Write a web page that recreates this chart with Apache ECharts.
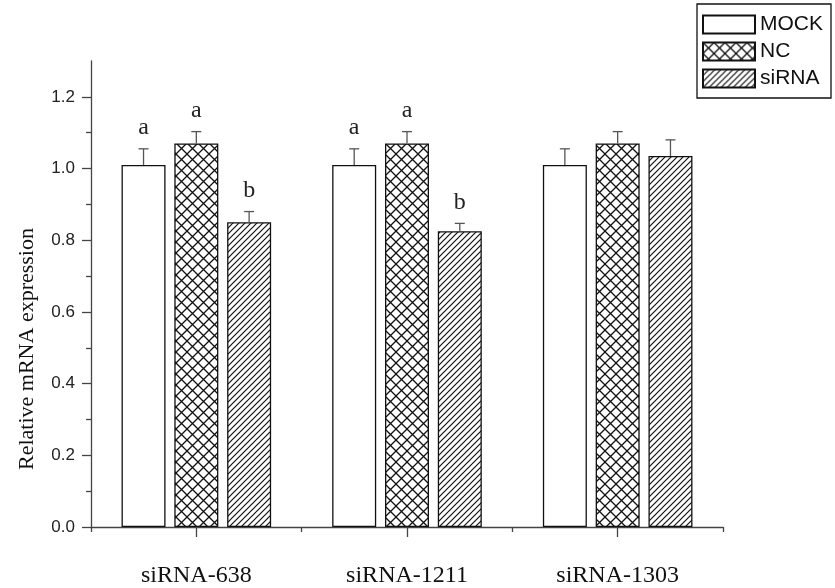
<!DOCTYPE html>
<html>
<head>
<meta charset="utf-8">
<script src="https://cdn.jsdelivr.net/npm/echarts@6/dist/echarts.min.js"></script>
<style>html,body{margin:0;padding:0;background:#fff}#chart{width:835px;height:588px}</style>
</head>
<body>
<div id="chart"></div>
<script>
// ---- data ----
var categories = ['siRNA-638', 'siRNA-1211', 'siRNA-1303'];
var seriesNames = ['MOCK', 'NC', 'siRNA'];
var mockValues = [1.01, 1.01, 1.01];
var mockErrors = [0.045, 0.045, 0.045];
var ncValues = [1.07, 1.07, 1.07];
var ncErrors = [0.033, 0.033, 0.033];
var sirnaValues = [0.85, 0.825, 1.035];
var sirnaErrors = [0.03, 0.022, 0.045];
var mockLetters = ['a', 'a', ''];
var ncLetters = ['a', 'a', ''];
var sirnaLetters = ['b', 'b', ''];
var yMajorTicks = [0, 0.2, 0.4, 0.6, 0.8, 1.0, 1.2];
var yMinorTicks = [0.1, 0.3, 0.5, 0.7, 0.9, 1.1];

// ---- patterns ----
function crossPattern() {
  var s = 11, c = document.createElement('canvas');
  c.width = s; c.height = s;
  var g = c.getContext('2d');
  g.fillStyle = '#fff'; g.fillRect(0, 0, s, s);
  g.strokeStyle = '#111'; g.lineWidth = 1.3;
  g.beginPath();
  g.moveTo(0, 0); g.lineTo(s, s);
  g.moveTo(0, s); g.lineTo(s, 0);
  g.stroke();
  return c;
}
function hatchPattern() {
  var s = 6, c = document.createElement('canvas');
  c.width = s; c.height = s;
  var g = c.getContext('2d');
  g.fillStyle = '#fff'; g.fillRect(0, 0, s, s);
  g.strokeStyle = '#111'; g.lineWidth = 1.2;
  g.beginPath();
  g.moveTo(-1, s + 1); g.lineTo(s + 1, -1);
  g.moveTo(-1, 1); g.lineTo(1, -1);
  g.moveTo(s - 1, s + 1); g.lineTo(s + 1, s - 1);
  g.stroke();
  return c;
}
var fills = [
  '#ffffff',
  { image: crossPattern(), repeat: 'repeat' },
  { image: hatchPattern(), repeat: 'repeat' }
];

var valueSets = [mockValues, ncValues, sirnaValues];
var errorSets = [mockErrors, ncErrors, sirnaErrors];
var letterSets = [mockLetters, ncLetters, sirnaLetters];

var BAR_W = 44, BAR_GAP = 0.2;
var STEP = BAR_W * (1 + BAR_GAP);

var barSeries = seriesNames.map(function (name, i) {
  return {
    name: name,
    type: 'bar',
    xAxisIndex: 0,
    yAxisIndex: 0,
    barWidth: BAR_W,
    barGap: (BAR_GAP * 100) + '%',
    data: valueSets[i],
    itemStyle: { color: fills[i], borderColor: '#111', borderWidth: 1.3 },
    emphasis: { disabled: true },
    z: 2
  };
});

var errData = [];
for (var s = 0; s < 3; s++) {
  for (var k = 0; k < categories.length; k++) {
    errData.push([k, s, valueSets[s][k], errorSets[s][k], letterSets[s][k]]);
  }
}

var errSeries = {
  type: 'custom',
  name: 'err',
  xAxisIndex: 0,
  yAxisIndex: 0,
  data: errData,
  encode: { x: 0, y: 2 },
  z: 5,
  silent: true,
  renderItem: function (params, api) {
    var cat = api.value(0), si = api.value(1), v = api.value(2), e = api.value(3);
    var letter = errData[params.dataIndex][4];
    var p0 = api.coord([cat, v]);
    var p1 = api.coord([cat, v + e]);
    var x = p0[0] + (si - 1) * STEP;
    var cap = 5;
    var children = [
      { type: 'line', shape: { x1: x, y1: p0[1], x2: x, y2: p1[1] }, style: { stroke: '#555', lineWidth: 1.3 } },
      { type: 'line', shape: { x1: x - cap, y1: p1[1], x2: x + cap, y2: p1[1] }, style: { stroke: '#555', lineWidth: 1.3 } }
    ];
    if (letter) {
      children.push({
        type: 'text',
        style: {
          text: letter, x: x, y: p1[1] - 9,
          align: 'center', verticalAlign: 'bottom',
          font: '24px "Liberation Serif", "DejaVu Serif", serif',
          fill: '#222'
        }
      });
    }
    return { type: 'group', children: children };
  }
};

var chart = echarts.init(document.getElementById('chart'), null, { renderer: 'canvas' });
chart.setOption({
  animation: false,
  backgroundColor: '#fff',
  grid: { left: 91, right: 112, top: 61, bottom: 61, containLabel: false },
  legend: {
    data: seriesNames,
    orient: 'vertical',
    left: 697,
    top: 4,
    itemWidth: 52,
    itemHeight: 18,
    itemGap: 6,
    padding: [10, 8, 9, 5],
    borderColor: '#111',
    borderWidth: 1.3,
    icon: 'rect',
    selectedMode: false,
    textStyle: { fontFamily: '"Liberation Sans", Arial, sans-serif', fontSize: 21, lineHeight: 18, color: '#111' }
  },
  xAxis: [
    {
      type: 'category',
      data: categories,
      position: 'bottom',
      axisLine: { show: true, lineStyle: { color: '#444', width: 1.3 } },
      axisTick: { show: true, length: 5, lineStyle: { color: '#444', width: 1.3 } },
      axisLabel: { margin: 37, fontFamily: '"Liberation Serif", "Times New Roman", serif', fontSize: 24, color: '#111' },
      splitLine: { show: false }
    },
    {
      type: 'category',
      data: categories,
      position: 'bottom',
      axisLine: { show: false },
      axisTick: { show: true, alignWithLabel: true, length: 10, lineStyle: { color: '#444', width: 1.3 } },
      axisLabel: { show: false },
      splitLine: { show: false }
    }
  ],
  yAxis: [
    {
      type: 'value',
      min: 0,
      max: 1.3,
      interval: 0.2,
      position: 'left',
      name: 'Relative mRNA expression',
      nameLocation: 'middle',
      nameGap: 53,
      nameTextStyle: { fontFamily: '"Liberation Serif", "Times New Roman", serif', fontSize: 22, color: '#111', padding: [0, 110, 0, 0] },
      axisLine: { show: true, lineStyle: { color: '#444', width: 1.3 } },
      axisTick: { show: true, length: 9, customValues: yMajorTicks, lineStyle: { color: '#444', width: 1.3 } },
      axisLabel: {
        customValues: yMajorTicks,
        margin: 16,
        fontFamily: '"Liberation Sans", Arial, sans-serif', fontSize: 17, color: '#222',
        formatter: function (v) { return v.toFixed(1); }
      },
      splitLine: { show: false }
    },
    {
      type: 'value',
      min: 0,
      max: 1.3,
      interval: 0.1,
      position: 'left',
      axisLine: { show: false },
      axisTick: { show: true, length: 5, customValues: yMinorTicks, lineStyle: { color: '#444', width: 1.3 } },
      axisLabel: { show: false },
      splitLine: { show: false }
    }
  ],
  series: barSeries.concat([errSeries])
});
</script>
</body>
</html>
